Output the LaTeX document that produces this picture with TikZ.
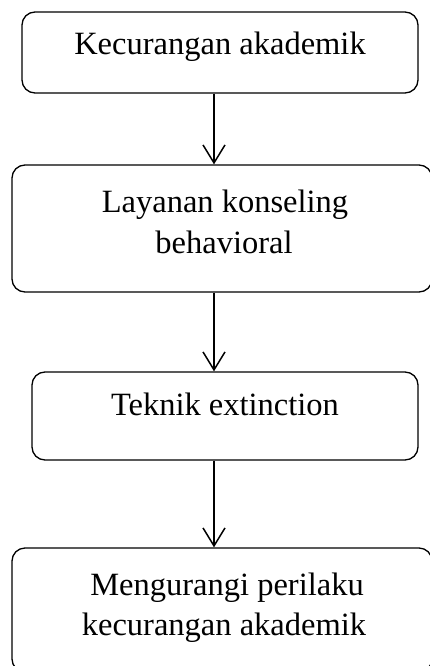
\documentclass[tikz,border=0pt]{standalone}
\usepackage{fontspec}
\setmainfont{Liberation Serif}
\usetikzlibrary{arrows.meta}
\begin{document}
\begin{tikzpicture}[x=1pt,y=-1pt,
  box/.style={draw=black, line width=1.3pt, rounded corners=13pt, inner sep=0pt},
  txt/.style={font=\fontsize{32.5}{41}\selectfont, anchor=base, inner sep=0pt},
  arr/.style={draw=black, line width=1.5pt, -{Straight Barb[length=18pt,width=22pt,line width=1.5pt]}}]
\useasboundingbox (0,0) rectangle (430,666);
% boxes
\node[box, minimum width=396pt, minimum height=81pt] (b1) at (220,52.5) {};
\node[box, minimum width=420pt, minimum height=127pt] (b2) at (222,228.5) {};
\node[box, minimum width=386pt, minimum height=88pt] (b3) at (225,416) {};
\node[box, minimum width=420pt, minimum height=124pt] (b4) at (222,610) {};
% texts
\node[txt] (t1) at (220,55) {Kecurangan akademik};
\node[txt] (t2a) at (225,212) {Layanan konseling};
\node[txt] (t2b) at (224,253) {behavioral};
\node[txt] (t3) at (225,415) {Teknik extinction};
\node[txt] (t4a) at (227,595) {Mengurangi perilaku};
\node[txt] (t4b) at (224,635) {kecurangan akademik};
% arrows
\coordinate (ax) at (214,0);
\draw[arr] (b1.south -| ax) -- (b2.north -| ax);
\draw[arr] (b2.south -| ax) -- (b3.north -| ax);
\draw[arr] (b3.south -| ax) -- (b4.north -| ax);
\end{tikzpicture}
\end{document}
